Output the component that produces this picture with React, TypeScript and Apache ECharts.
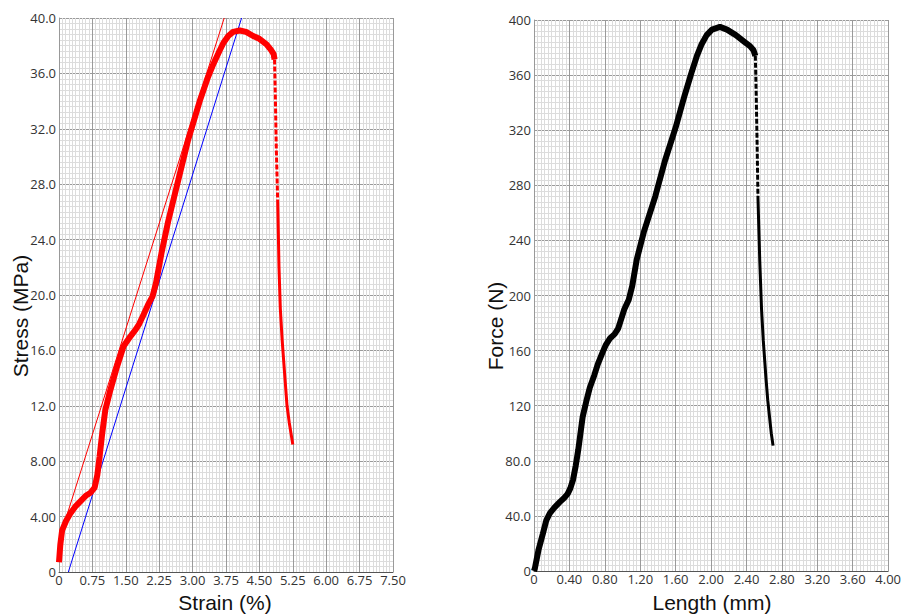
import React, { useEffect, useRef } from "react";
import * as echarts from "echarts";

// Stress–strain curve (left panel), [strain %, stress MPa]
const strainStress: number[][] = [
  [0, 0.7], [0.03, 2.0], [0.07, 3.0], [0.16, 3.7], [0.25, 4.2], [0.36, 4.7], [0.48, 5.1],
  [0.6, 5.5], [0.7, 5.7], [0.8, 6.1], [0.86, 7.0], [0.91, 8.3], [0.97, 10.0],
  [1.04, 11.7], [1.15, 13.1], [1.3, 14.8], [1.45, 16.3], [1.6, 17.0], [1.72, 17.5],
  [1.8, 17.9], [1.9, 18.6], [2.0, 19.3], [2.1, 19.9], [2.18, 20.9], [2.3, 23.0],
  [2.45, 25.3], [2.64, 27.8], [2.9, 31.2], [3.17, 34.1], [3.33, 35.6], [3.47, 36.7],
  [3.6, 37.6], [3.69, 38.2], [3.8, 38.7], [3.91, 39.0], [4.06, 39.1], [4.2, 39.0],
  [4.36, 38.7], [4.5, 38.5], [4.66, 38.1], [4.76, 37.7], [4.82, 37.4], [4.84, 37.0]
];
const strainStressDropTop: number[][] = [
  [4.84, 37.0], [4.86, 34.0], [4.88, 30.5], [4.91, 26.9]
];
const strainStressDropLow: number[][] = [
  [4.91, 26.9], [4.94, 22.0], [4.97, 19.0], [5.01, 16.8], [5.06, 14.6], [5.12, 12.0],
  [5.17, 10.8], [5.21, 10.0], [5.25, 9.2]
];
// fitted modulus lines
const fitRed: number[][] = [[0, 2.3], [3.71, 40]];
const fitBlue: number[][] = [[0.21, 0], [4.1, 40]];

// Force–length curve (right panel), [length mm, force N]
const lengthForce: number[][] = [
  [0, 0], [0.01, 2], [0.05, 15], [0.1, 27], [0.14, 37], [0.18, 42], [0.23, 46],
  [0.29, 50], [0.34, 53], [0.38, 56], [0.41, 60], [0.44, 66], [0.47, 76], [0.5, 88],
  [0.55, 112], [0.59, 123], [0.63, 133], [0.68, 142], [0.72, 150], [0.77, 158],
  [0.81, 164], [0.86, 169], [0.91, 172], [0.95, 176], [0.98, 182], [1.02, 190],
  [1.07, 197], [1.11, 207], [1.16, 226], [1.24, 246], [1.37, 272], [1.48, 298],
  [1.6, 322], [1.7, 345], [1.78, 362], [1.84, 374], [1.89, 382], [1.95, 389],
  [2.01, 393], [2.1, 395], [2.18, 393], [2.28, 389], [2.38, 384], [2.44, 381],
  [2.48, 378], [2.5, 374]
];
const lengthForceDropTop: number[][] = [
  [2.5, 374], [2.51, 345], [2.52, 310], [2.53, 270]
];
const lengthForceDropLow: number[][] = [
  [2.53, 270], [2.55, 225], [2.57, 190], [2.59, 167], [2.62, 140], [2.64, 124],
  [2.66, 112], [2.68, 100], [2.7, 91]
];

const strainMax = 7.5;
const strainStep = 0.75;
const stressMax = 40;
const stressStep = 4;
const lengthMax = 4;
const lengthStep = 0.4;
const forceMax = 400;
const forceStep = 40;

const FONT = "'Open Sans', 'Noto Sans', sans-serif";
const TITLE_FONT = "'Liberation Sans', Arial, sans-serif";

const fmtStress = (v: number) => (v === 0 ? "0" : v < 10 ? v.toFixed(2) : v.toFixed(1));
const fmtForce = (v: number) => (v === 0 ? "0" : v < 100 ? v.toFixed(1) : v.toFixed(0));
const fmtX = (v: number) => (v === 0 ? "0" : v.toFixed(2));

function axisCommon(min: number, max: number, interval: number, fmt: (v: number) => string, isX: boolean, gridIndex: number) {
  return {
    type: "value",
    gridIndex,
    min,
    max,
    interval,
    axisLine: { show: true, onZero: false, lineStyle: { color: isX ? "#555" : "#999", width: 1 } },
    axisTick: { show: false },
    axisLabel: {
      formatter: fmt,
      color: "#333",
      fontSize: 13,
      lineHeight: 14,
      fontFamily: FONT,
      margin: isX ? 1 : 3,
    },
    splitLine: { show: true, lineStyle: { color: "#9a9a9a", width: 1 } },
    minorTick: { show: false, splitNumber: 10 },
    minorSplitLine: { show: true, lineStyle: { color: "#dcdcdc", width: 1 } },
  };
}

export default function App() {
  const ref = useRef<HTMLDivElement>(null);
  useEffect(() => {
    document.body.style.margin = "0";
    if (!ref.current) return;
    const chart = echarts.init(ref.current, undefined, { renderer: "svg" });
    const line = (data: number[][], color: string, width: number, idx: number, type: any = "solid") => ({
      type: "line",
      xAxisIndex: idx,
      yAxisIndex: idx,
      data,
      showSymbol: false,
      symbol: "none",
      smooth: false,
      lineStyle: { color, width, type },
      z: 3,
    });
    const title = (text: string, x: number, y: number, vertical: boolean) => ({
      type: "text",
      x,
      y,
      rotation: vertical ? Math.PI / 2 : 0,
      style: {
        text,
        font: `21px ${TITLE_FONT}`,
        lineHeight: 21,
        fill: "#111",
        align: "center",
        verticalAlign: "middle",
      },
    });
    chart.setOption({
      animation: false,
      backgroundColor: "#fff",
      grid: [
        { left: 59, top: 18, width: 334, height: 554 },
        { left: 534, top: 20, width: 358, height: 551 },
      ],
      xAxis: [
        axisCommon(0, strainMax, strainStep, fmtX, true, 0),
        axisCommon(0, lengthMax, lengthStep, fmtX, true, 1),
      ],
      yAxis: [
        axisCommon(0, stressMax, stressStep, fmtStress, false, 0),
        axisCommon(0, forceMax, forceStep, fmtForce, false, 1),
      ],
      graphic: [
        title("Strain (%)", 225, 602, false),
        title("Length (mm)", 712, 602, false),
        title("Stress (MPa)", 20, 316, true),
        title("Force (N)", 495, 326, true),
      ],
      series: [
        line(fitRed, "#ff0000", 1, 0),
        line(fitBlue, "#0000ff", 1, 0),
        line(strainStress, "#ff0000", 6, 0),
        line(strainStressDropTop, "#ff0000", 3, 0, [5, 2]),
        line(strainStressDropLow, "#ff0000", 3, 0),
        line(lengthForce, "#000000", 6, 1),
        line(lengthForceDropTop, "#000000", 3, 1, [5, 2]),
        line(lengthForceDropLow, "#000000", 3, 1),
      ],
    });
    return () => chart.dispose();
  }, []);
  return <div ref={ref} style={{ width: 904, height: 614 }} />;
}
